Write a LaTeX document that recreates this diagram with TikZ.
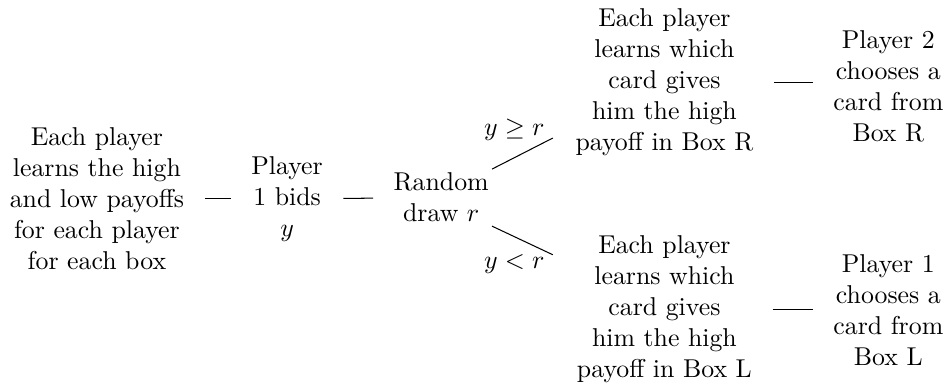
\documentclass[tikz,border=0pt]{standalone}
\usepackage{amssymb}
\usetikzlibrary{positioning}
\tikzset{
  stage/.style={align=center, inner sep=3.33pt},
  link/.style={line width=0.4pt, shorten <=4.5pt, shorten >=4.5pt},
  branch/.style={line width=0.4pt, shorten <=-2.5pt},
  cond/.style={left, inner sep=3pt}
}

\begin{document}
\begin{tikzpicture}
  \useasboundingbox (0,0) rectangle (12.94,-5.27);

  % ---- Stages along the main row -------------------------------------------
  \node[stage] (info) at (1.32, -2.71)
        {Each player\\learns the high\\and low payoffs\\for each player\\for each box};
  \node[stage] (bid)  at (3.91, -2.71) {Player\\1 bids\\$y$};
  \node[stage] (rand) at (6.01, -2.69) {Random\\draw $r$};

  % ---- Upper branch (y >= r) -------------------------------------------------
  \node[stage] (learnR)  at (9.05, -1.12)
        {Each player\\learns which\\card gives\\him the high\\payoff in Box R};
  \node[stage] (chooseR) at (12.10, -1.17)
        {Player 2\\chooses a\\card from\\Box R};

  % ---- Lower branch (y < r) --------------------------------------------------
  \node[stage] (learnL)  at (9.05, -4.21)
        {Each player\\learns which\\card gives\\him the high\\payoff in Box L};
  \node[stage] (chooseL) at (12.10, -4.22)
        {Player 1\\chooses a\\card from\\Box L};

  % ---- Free ends of the two branches ----------------------------------------
  \coordinate (upR) at (7.53, -1.88);
  \coordinate (loR) at (7.53, -3.47);

  % ---- Connectors --------------------------------------------------------------
  \draw[link] (info) -- (bid);
  \draw[link] (bid) -- (rand);
  \draw[branch] (rand.29) -- (upR) node[cond, yshift=3pt] {$y \geq r$};
  \draw[branch] (rand.-29) -- (loR) node[cond, yshift=-3.5pt] {$y < r$};
  \draw[link] (learnR.east) -- (learnR.east -| chooseR.west);
  \draw[link] (learnL.east) -- (learnL.east -| chooseL.west);

\end{tikzpicture}
\end{document}
